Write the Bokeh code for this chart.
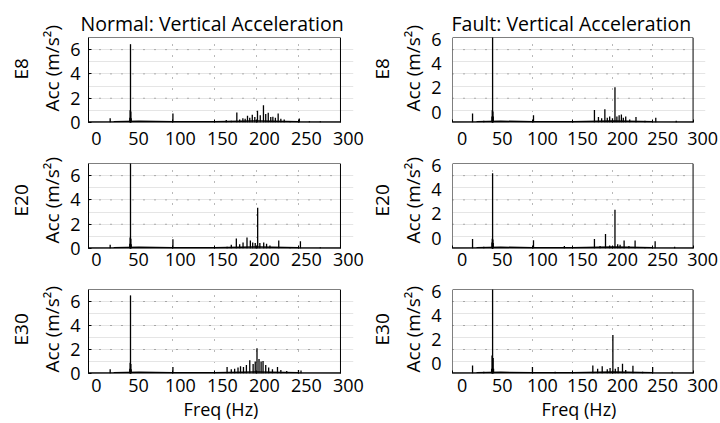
from bokeh.plotting import figure
from bokeh.layouts import gridplot
from bokeh.models import Range1d, LinearAxis, FixedTicker, BoxAnnotation, Title
from bokeh.embed import file_html
from bokeh.resources import INLINE

FONT = "Open Sans"

# ---- axes / labels ----
freq_ticks = [0, 50, 100, 150, 200, 250, 300]
freq_grid = [50, 100, 150, 200, 250]
acc_ticks = [0, 2, 4, 6]
acc_grid = [2, 4, 6]
acc_max = 7
titles = ["Normal: Vertical Acceleration", "Fault: Vertical Acceleration"]
sensors = ["E8", "E20", "E30"]
y_title = "Acc (m/s²)"
x_title = "Freq (Hz)"

# ---- spectrum peaks: frequency (Hz) and amplitude (m/s^2) ----
normal_e8_f = [25.8, 49.2, 49.6, 50.0, 50.4, 50.8, 100.5, 164, 170, 176.6, 180, 183.8, 186.5,
               189.3, 192, 195, 198, 201.2, 204.5, 208.3, 211, 214, 217, 219.5, 222.5, 225.8,
               229, 233, 240, 251, 263, 276]
normal_e8_a = [0.35, 0.4, 1.0, 6.45, 0.9, 0.35, 0.74, 0.2, 0.15, 0.82, 0.25, 0.36, 0.3,
               0.55, 0.4, 0.63, 0.45, 0.96, 0.6, 1.43, 0.7, 0.8, 0.45, 0.47, 0.4, 0.74,
               0.3, 0.25, 0.1, 0.33, 0.1, 0.1]

normal_e20_f = [25.8, 49.2, 49.6, 50.0, 50.4, 50.8, 100.5, 165, 170, 176, 180, 184, 188.7,
                192.7, 195.5, 198.5, 201.4, 204, 208.6, 212, 216, 226.5, 240, 252.3, 276]
normal_e20_a = [0.3, 0.4, 0.9, 7.5, 0.8, 0.35, 0.77, 0.15, 0.3, 0.82, 0.35, 0.5, 0.91,
                0.65, 0.5, 0.45, 3.35, 0.45, 0.5, 0.4, 0.25, 0.65, 0.1, 0.6, 0.1]

normal_e30_f = [25.8, 49.2, 49.6, 50.0, 50.4, 50.8, 100.5, 165, 170, 174, 178, 181, 184.5,
                188, 192, 196, 198.5, 200.6, 203, 205.5, 207.8, 211, 214.5, 219, 225, 229,
                236, 250, 253]
normal_e30_a = [0.35, 0.4, 0.9, 6.5, 0.8, 0.35, 0.55, 0.55, 0.35, 0.4, 0.5, 0.6, 0.55,
                0.7, 1.1, 0.8, 1.0, 2.1, 1.2, 1.0, 1.05, 0.7, 0.5, 0.35, 0.55, 0.3,
                0.2, 0.3, 0.25]

fault_e8_f = [25, 39, 49.2, 49.6, 50.0, 50.4, 50.8, 101, 150, 177, 182, 186, 190, 193, 196,
              199.5, 202.6, 205, 207.8, 210.6, 213, 216, 221, 228.8, 240, 253.5, 279]
fault_e8_a = [0.75, 0.15, 0.5, 1.0, 7.5, 0.9, 0.5, 0.6, 0.1, 1.03, 0.45, 0.35, 1.1, 0.4, 0.5,
              0.35, 2.9, 0.5, 0.6, 0.65, 0.4, 0.5, 0.25, 0.45, 0.15, 0.4, 0.15]

fault_e20_f = [25, 39, 49.2, 49.6, 50.0, 50.4, 50.8, 101, 139.5, 177, 184, 190.8, 196, 202.6,
               206, 209, 214, 220, 227.7, 240, 252.7, 277]
fault_e20_a = [0.78, 0.15, 0.5, 0.8, 6.2, 0.75, 0.45, 0.68, 0.2, 0.78, 0.2, 1.19, 0.25, 3.19,
               0.35, 0.3, 0.65, 0.2, 0.65, 0.1, 0.6, 0.15]

fault_e30_f = [25, 39, 48.8, 49.3, 50.0, 50.7, 51.2, 99.7, 128, 175, 181, 186.7, 193, 196.5,
               200, 203, 206.6, 212, 216, 225, 237, 249.6, 274]
fault_e30_a = [0.66, 0.15, 0.4, 1.5, 7.5, 1.3, 0.4, 0.55, 0.15, 0.66, 0.4, 0.6, 0.35, 0.45,
               3.2, 0.4, 0.55, 0.82, 0.3, 0.65, 0.15, 0.55, 0.15]

# low-level noise floor of the spectra
floor_f = [0, 30, 60, 100, 150, 200, 250, 300]
floor_a = [0.05, 0.07, 0.1, 0.07, 0.07, 0.12, 0.07, 0.05]

series = [
    [(normal_e8_f, normal_e8_a), (fault_e8_f, fault_e8_a)],
    [(normal_e20_f, normal_e20_a), (fault_e20_f, fault_e20_a)],
    [(normal_e30_f, normal_e30_a), (fault_e30_f, fault_e30_a)],
]

# ---- layout / style ----
x_view_end = 315.5               # view extends a little past the 300 Hz box edge (room for labels)
widths = [366, 354]
heights = [150, 126, 147]
b_top = [37, 13, 13]
b_bottom = [28, 28, 49]
b_left = [88, 75]
b_right = [13, 15]
title_offset = [-8, -1]
xlab_standoff = [9, 4, 5]        # per row
xlab_shift = [9.5, 12.0]         # per column: x tick labels sit right of their ticks (Hz)
ylab_shift = [0.0, 0.85]         # per column: y tick labels sit above their grid lines
ylab_standoff = [8, 11]
ytitle_offset = [11, 5, 1]       # per row: start of the y title above the frame bottom (px)
sensor_offset = [43, 32, 28]     # per row: start of the sensor name (px)
ytitle_standoff = [6, 6]         # per column
sensor_standoff = [0, 0]         # per column
GRID = dict(line_color="black", line_alpha=0.55, line_dash="1 10", line_width=1)


def make_panel(r, c):
    f, a = series[r][c]
    kw = {}
    if r == 0:
        kw["title"] = titles[c]
    p = figure(width=widths[c], height=heights[r], x_range=Range1d(0, x_view_end),
               y_range=Range1d(0, acc_max),
               output_backend="svg", toolbar_location=None, y_axis_location=None,
               min_border_left=b_left[c], min_border_right=b_right[c],
               min_border_top=b_top[r], min_border_bottom=b_bottom[r], **kw)
    p.background_fill_color = "white"
    p.border_fill_color = "white"
    p.outline_line_color = None

    if r == 0:
        p.title.text_font = FONT
        p.title.text_font_size = "19.5px"
        p.title.text_font_style = "normal"
        p.title.text_color = "black"
        p.title.align = "left"
        p.title.offset = title_offset[c]
        p.title.standoff = 2

    # main x axis: inward ticks only
    xa = p.xaxis[0]
    xa.ticker = FixedTicker(ticks=freq_ticks)
    xa.major_label_overrides = {v: "" for v in freq_ticks}
    xa.major_label_text_font_size = "1px"
    xa.major_label_standoff = 0
    xa.major_tick_in = 3
    xa.major_tick_out = 0
    xa.minor_tick_in = 0
    xa.minor_tick_out = 0
    xa.axis_line_color = None

    # label axis for frequencies (labels placed right of the ticks, as in the source)
    s = xlab_shift[c]
    p.extra_x_ranges = {"xs": Range1d(0 - s, x_view_end - s)}
    xl = LinearAxis(x_range_name="xs", ticker=FixedTicker(ticks=freq_ticks))
    xl.major_tick_in = 0
    xl.major_tick_out = 0
    xl.minor_tick_in = 0
    xl.minor_tick_out = 0
    xl.axis_line_color = None
    xl.major_label_standoff = xlab_standoff[r]
    xl.major_label_text_font = FONT
    xl.major_label_text_font_size = "18px"
    xl.major_label_text_color = "black"
    if r == 2:
        xl.axis_label = x_title
        xl.axis_label_text_font = FONT
        xl.axis_label_text_font_size = "18px"
        xl.axis_label_text_font_style = "normal"
        xl.axis_label_text_color = "black"
        xl.axis_label_standoff = 2
    p.add_layout(xl, "below")

    # dotted grid (vertical via Grid, horizontal limited to the 0-300 Hz box)
    p.xgrid.ticker = FixedTicker(ticks=freq_grid)
    p.xgrid.grid_line_color = GRID["line_color"]
    p.xgrid.grid_line_alpha = GRID["line_alpha"]
    p.xgrid.grid_line_dash = GRID["line_dash"]
    n = len(acc_grid)
    p.segment(x0=[freq_ticks[0]] * n, y0=acc_grid, x1=[freq_ticks[-1]] * n, y1=acc_grid, **GRID)

    # y axis (tick labels)
    if ylab_shift[c] == 0:
        ya = LinearAxis(ticker=FixedTicker(ticks=acc_ticks))
        ya.major_tick_in = 3
        ya.axis_line_color = "black"
    else:
        t = ylab_shift[c]
        p.extra_y_ranges = {"ys": Range1d(0 - t, acc_max - t)}
        ya = LinearAxis(y_range_name="ys", ticker=FixedTicker(ticks=acc_ticks))
        ya.major_tick_in = 0
        ya.axis_line_color = None
    ya.major_tick_out = 0
    ya.minor_tick_in = 0
    ya.minor_tick_out = 0
    ya.major_label_standoff = ylab_standoff[c]
    ya.major_label_text_font = FONT
    ya.major_label_text_font_size = "18px"
    ya.major_label_text_color = "black"
    p.add_layout(ya, "left")

    # y titles: "Acc (m/s²)" then sensor name, set a little above centre as in the source
    for txt, off, so in ((y_title, ytitle_offset[r], ytitle_standoff[c]),
                         (sensors[r], sensor_offset[r], sensor_standoff[c])):
        p.add_layout(Title(text=txt, align="left", offset=off, standoff=so, text_font=FONT,
                           text_font_size="19px", text_font_style="normal",
                           text_color="black"), "left")

    # spectrum
    p.line(floor_f, floor_a, line_color="black", line_width=1.5)
    p.segment(x0=f, y0=[0] * len(f), x1=f, y1=a, line_color="black", line_width=1.3)

    # axes box over 0-300 Hz
    p.add_layout(BoxAnnotation(left=freq_ticks[0], right=freq_ticks[-1], bottom=0, top=acc_max,
                               fill_alpha=0, line_color="black", line_width=1, line_alpha=1))
    return p


panels = [[make_panel(r, c) for c in range(2)] for r in range(3)]
grid = gridplot(panels, toolbar_location=None)

open("out.html", "w").write(file_html(grid, INLINE))
